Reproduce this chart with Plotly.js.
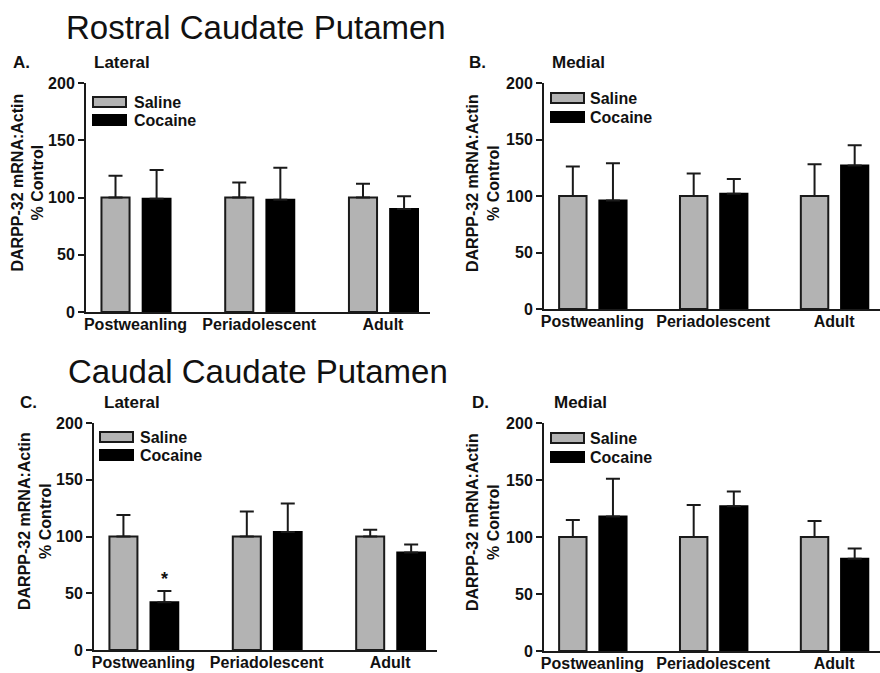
<!DOCTYPE html>
<html>
<head>
<meta charset="utf-8">
<script src="https://cdn.plot.ly/plotly-3.0.1.min.js"></script>
<style>html,body{margin:0;padding:0;background:#fff;}#chart{width:880px;height:673px;}</style>
</head>
<body>
<div id="chart"></div>
<script>
// ---- data ----
const categories = ['Postweanling', 'Periadolescent', 'Adult'];
const seriesNames = ['Saline', 'Cocaine'];

// Rostral, Lateral (A)
const salineA = [100, 100, 100];
const salineSemA = [19, 13, 12];
const cocaineA = [99, 98, 90];
const cocaineSemA = [25, 28, 11];
// Rostral, Medial (B)
const salineB = [100, 100, 100];
const salineSemB = [26, 20, 28];
const cocaineB = [96, 102, 127];
const cocaineSemB = [33, 13, 18];
// Caudal, Lateral (C)
const salineC = [100, 100, 100];
const salineSemC = [19, 22, 6];
const cocaineC = [42, 104, 86];
const cocaineSemC = [10, 25, 7];
// Caudal, Medial (D)
const salineD = [100, 100, 100];
const salineSemD = [15, 28, 14];
const cocaineD = [118, 127, 81];
const cocaineSemD = [33, 13, 9];

const yTickVals = [0, 50, 100, 150, 200];
const panelLetters = ['A.', 'B.', 'C.', 'D.'];
const panelRegions = ['Lateral', 'Medial', 'Lateral', 'Medial'];
const sectionTitles = ['Rostral Caudate Putamen', 'Caudal Caudate Putamen'];
const yTitle = 'DARPP-32 mRNA:Actin<br>% Control';
// significance mark: panel index, category index, text
const sigPanel = 2, sigCategory = 0, sigText = '*';

// ---- layout helpers (pixel geometry) ----
const W = 880, H = 673;
const FONT = 'Liberation Sans, Arial, Helvetica, sans-serif';
const px = x => x / W;
const py = y => 1 - y / H;

const panels = [
  {sal: salineA, salE: salineSemA, coc: cocaineA, cocE: cocaineSemA, x0: 86, x1: 430, y0: 83, y1: 312,
   letter: [11, 70], region: [92, 70], ytitle: [27.5, 183], leg: {sx: 93, sy: 102, cy: 120, tx: 132}},
  {sal: salineB, salE: salineSemB, coc: cocaineB, cocE: cocaineSemB, x0: 544, x1: 880, y0: 83, y1: 309,
   letter: [467, 70], region: [550, 70], ytitle: [483, 183], leg: {sx: 551, sy: 98, cy: 117, tx: 588}},
  {sal: salineC, salE: salineSemC, coc: cocaineC, cocE: cocaineSemC, x0: 94, x1: 437, y0: 423, y1: 650,
   letter: [18, 410], region: [102, 410], ytitle: [35, 521], leg: {sx: 100, sy: 437, cy: 455, tx: 138}},
  {sal: salineD, salE: salineSemD, coc: cocaineD, cocE: cocaineSemD, x0: 544, x1: 880, y0: 423, y1: 651,
   letter: [470, 410], region: [552, 410], ytitle: [483, 522], leg: {sx: 551, sy: 438, cy: 457, tx: 588}}
];

const traces = [];
const annotations = [];
const shapes = [];
const layout = {
  width: W, height: H,
  margin: {l: 0, r: 0, t: 0, b: 0},
  paper_bgcolor: '#fff', plot_bgcolor: 'rgba(0,0,0,0)',
  showlegend: false, barmode: 'overlay',
  font: {family: FONT, color: '#111'}
};

panels.forEach((p, i) => {
  const n = i + 1;
  const xa = 'x' + (n === 1 ? '' : n), ya = 'y' + (n === 1 ? '' : n);
  const xk = 'xaxis' + (n === 1 ? '' : n), yk = 'yaxis' + (n === 1 ? '' : n);
  const zeros = categories.map(() => 0);
  traces.push({
    type: 'bar', name: seriesNames[0], x: categories, y: p.sal, xaxis: xa, yaxis: ya,
    offset: -0.275, width: 0.227,
    marker: {color: '#b3b3b3', line: {color: '#1a1a1a', width: 2}},
    error_y: {type: 'data', symmetric: false, array: p.salE, arrayminus: zeros, color: '#1a1a1a', thickness: 2, width: 7}
  });
  traces.push({
    type: 'bar', name: seriesNames[1], x: categories, y: p.coc, xaxis: xa, yaxis: ya,
    offset: 0.058, width: 0.225,
    marker: {color: '#000', line: {color: '#000', width: 2}},
    error_y: {type: 'data', symmetric: false, array: p.cocE, arrayminus: zeros, color: '#1a1a1a', thickness: 2, width: 7}
  });
  layout[xk] = {
    domain: [px(p.x0), px(p.x1)], anchor: ya, type: 'category', range: [-0.4, 2.38],
    showline: true, linecolor: '#1a1a1a', linewidth: 2, ticks: '', showgrid: false, zeroline: false,
    ticklabelstandoff: -3,
    tickfont: {family: FONT, size: 16, weight: 'bold', color: '#111'}, fixedrange: true
  };
  layout[yk] = {
    domain: [py(p.y1), py(p.y0)], anchor: xa, range: [0, 200], tickvals: yTickVals,
    showline: true, linecolor: '#1a1a1a', linewidth: 2, ticks: 'outside', ticklen: 6, tickwidth: 2, tickcolor: '#1a1a1a',
    showgrid: false, zeroline: false,
    tickfont: {family: FONT, size: 16, weight: 'bold', color: '#111'}, fixedrange: true
  };
  // panel letter and region label
  annotations.push({xref: 'paper', yref: 'paper', x: px(p.letter[0]), y: py(p.letter[1]), xanchor: 'left', yanchor: 'bottom',
    text: panelLetters[i], showarrow: false, font: {family: FONT, size: 17, weight: 'bold', color: '#111'}, yshift: -4});
  annotations.push({xref: 'paper', yref: 'paper', x: px(p.region[0]), y: py(p.region[1]), xanchor: 'left', yanchor: 'bottom',
    text: panelRegions[i], showarrow: false, font: {family: FONT, size: 17, weight: 'bold', color: '#111'}, yshift: -4});
  // y axis title
  annotations.push({xref: 'paper', yref: 'paper', x: px(p.ytitle[0]), y: py(p.ytitle[1]), xanchor: 'center', yanchor: 'middle',
    text: yTitle, textangle: -90, showarrow: false, font: {family: FONT, size: 16, weight: 'bold', color: '#111'}});
  // custom legend
  const L = p.leg;
  shapes.push({type: 'rect', xref: 'paper', yref: 'paper', x0: px(L.sx), x1: px(L.sx + 33), y0: py(L.sy - 5), y1: py(L.sy + 5),
    fillcolor: '#b3b3b3', line: {color: '#1a1a1a', width: 2}});
  shapes.push({type: 'rect', xref: 'paper', yref: 'paper', x0: px(L.sx), x1: px(L.sx + 33), y0: py(L.cy - 5), y1: py(L.cy + 5),
    fillcolor: '#000', line: {color: '#000', width: 2}});
  annotations.push({xref: 'paper', yref: 'paper', x: px(L.tx), y: py(L.sy), xanchor: 'left', yanchor: 'middle',
    text: seriesNames[0], showarrow: false, font: {family: FONT, size: 16, weight: 'bold', color: '#111'}});
  annotations.push({xref: 'paper', yref: 'paper', x: px(L.tx), y: py(L.cy), xanchor: 'left', yanchor: 'middle',
    text: seriesNames[1], showarrow: false, font: {family: FONT, size: 16, weight: 'bold', color: '#111'}});
});

// section titles
annotations.push({xref: 'paper', yref: 'paper', x: px(64), y: py(28), xanchor: 'left', yanchor: 'middle',
  text: sectionTitles[0], showarrow: false, font: {family: FONT, size: 33, color: '#111'}});
annotations.push({xref: 'paper', yref: 'paper', x: px(66), y: py(371), xanchor: 'left', yanchor: 'middle',
  text: sectionTitles[1], showarrow: false, font: {family: FONT, size: 33, color: '#111'}});

// significance asterisk above the cocaine bar (data coordinates)
{
  const n = sigPanel + 1;
  const p = panels[sigPanel];
  annotations.push({xref: 'x' + n, yref: 'y' + n, x: categories[sigCategory], xshift: 21,
    y: p.coc[sigCategory] + p.cocE[sigCategory], yanchor: 'bottom', yshift: 0,
    text: sigText, showarrow: false, font: {family: FONT, size: 18, weight: 'bold', color: '#111'}});
}

layout.annotations = annotations;
layout.shapes = shapes;

Plotly.newPlot('chart', traces, layout, {staticPlot: true, displayModeBar: false});
</script>
</body>
</html>
